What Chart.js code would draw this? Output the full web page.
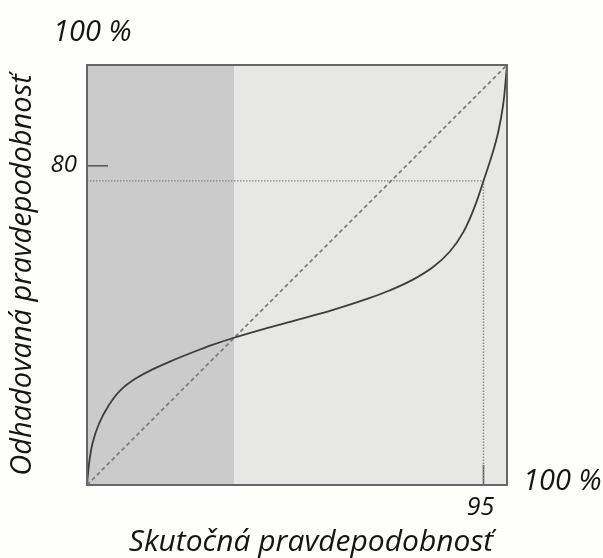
<!DOCTYPE html>
<html>
<head>
<meta charset="utf-8">
<script src="https://cdn.jsdelivr.net/npm/chart.js@4/dist/chart.umd.min.js"></script>
<style>
  body { margin: 0; background: #fefefa; }
  #wrap { width: 603px; height: 558px; }
</style>
</head>
<body>
<div id="wrap"><canvas id="chart" width="603" height="558"></canvas></div>
<script>
// estimated curve (percent of axis)
var curveX = [0, 0.5, 1.3, 2.9, 5.2, 8.0, 12.0, 16.0, 20, 25.2, 30, 34.8, 43, 50.7, 58.6, 66.7, 72, 77.6, 82.4, 86.4, 89.6, 92.4, 94.4, 96.4, 97.9, 99.1, 100];
var curveY = [0, 5.2, 9.9, 14.7, 19, 22.6, 25.6, 27.7, 29.5, 31.6, 33.4, 35, 37.4, 39.5, 41.7, 44.3, 46.3, 48.9, 51.9, 55.6, 60.2, 66.5, 72.4, 78.5, 84, 90.6, 100];
var diagX = [0, 100];
var diagY = [0, 100];
var shadeEnd = 35;          // dark zone goes from 0 to here
var markX = 94.4;           // "95" guide
var markY = 72.4;           // guide height where curve meets it
var xTickValues = [94.4];
var xTickLabels = ['95'];
var yTickValues = [76];
var yTickLabels = ['80'];
var xTitle = 'Skutočná pravdepodobnosť';
var yTitle = 'Odhadovaná pravdepodobnosť';
var maxLabel = '100 %';

function pts(xs, ys) {
  return xs.map(function (x, i) { return { x: x, y: ys[i] }; });
}

var fontFam = '"Open Sans", "Noto Sans", sans-serif';

var decor = {
  id: 'decor',
  beforeDatasetsDraw: function (chart) {
    var ctx = chart.ctx, a = chart.chartArea, xs = chart.scales.x;
    var edge = xs.getPixelForValue(shadeEnd);
    ctx.save();
    ctx.fillStyle = '#e7e7e5';
    ctx.fillRect(a.left, a.top, a.right - a.left, a.bottom - a.top);
    ctx.fillStyle = '#cbcbcb';
    ctx.fillRect(a.left, a.top, edge - a.left, a.bottom - a.top);
    ctx.restore();
  },
  afterDraw: function (chart) {
    var ctx = chart.ctx, a = chart.chartArea, xs = chart.scales.x, ys = chart.scales.y;
    ctx.save();
    ctx.strokeStyle = '#666';
    ctx.lineWidth = 2;
    ctx.strokeRect(a.left, a.top, a.right - a.left, a.bottom - a.top);

    ctx.fillStyle = '#151515';
    ctx.textBaseline = 'middle';

    ctx.font = 'italic 24px ' + fontFam;
    ctx.textAlign = 'right';
    yTickValues.forEach(function (v, i) {
      ctx.fillText(yTickLabels[i], a.left - 10, ys.getPixelForValue(v) - 1);
    });
    ctx.font = 'italic 25px ' + fontFam;
    ctx.textAlign = 'center';
    xTickValues.forEach(function (v, i) {
      ctx.fillText(xTickLabels[i], xs.getPixelForValue(v) - 3, a.bottom + 23);
    });

    ctx.font = 'italic 29px ' + fontFam;
    ctx.textAlign = 'left';
    ctx.fillText(maxLabel, a.left - 34, 33);
    ctx.fillText(maxLabel, a.right + 16, a.bottom - 3);

    ctx.font = 'italic 30px ' + fontFam;
    ctx.textAlign = 'center';
    ctx.fillText(xTitle, (a.left + a.right) / 2 + 14, a.bottom + 57);

    ctx.font = 'italic 29px ' + fontFam;
    ctx.translate(23, (a.top + a.bottom) / 2);
    ctx.rotate(-Math.PI / 2);
    ctx.fillText(yTitle, 0, 0);
    ctx.restore();
  }
};

new Chart(document.getElementById('chart'), {
  type: 'scatter',
  data: {
    datasets: [
      {
        data: pts(curveX, curveY),
        showLine: true,
        borderColor: '#3c3c3c',
        borderWidth: 1.8,
        pointRadius: 0,
        tension: 0.4
      },
      {
        data: pts(diagX, diagY),
        showLine: true,
        borderColor: '#7d7d7d',
        borderWidth: 1.8,
        borderDash: [4, 3],
        pointRadius: 0
      },
      {
        data: [{ x: 0, y: markY }, { x: markX, y: markY }],
        showLine: true,
        borderColor: '#858585',
        borderWidth: 1.4,
        borderDash: [1.5, 1.5],
        pointRadius: 0
      },
      {
        data: [{ x: markX, y: 0 }, { x: markX, y: markY }],
        showLine: true,
        borderColor: '#858585',
        borderWidth: 1.4,
        borderDash: [1.5, 1.5],
        pointRadius: 0
      },
      {
        // solid tick marks
        data: [{ x: xTickValues[0], y: 0 }, { x: xTickValues[0], y: 4.8 }],
        showLine: true,
        borderColor: '#555',
        borderWidth: 1.5,
        pointRadius: 0
      },
      {
        data: [{ x: 0, y: yTickValues[0] }, { x: 5, y: yTickValues[0] }],
        showLine: true,
        borderColor: '#555',
        borderWidth: 1.5,
        pointRadius: 0
      }
    ]
  },
  options: {
    responsive: false,
    animation: false,
    layout: { padding: { left: 87, right: 96, top: 65, bottom: 73 } },
    plugins: { legend: { display: false }, tooltip: { enabled: false } },
    scales: {
      x: { type: 'linear', min: 0, max: 100, display: false },
      y: { type: 'linear', min: 0, max: 100, display: false }
    }
  },
  plugins: [decor]
});
</script>
</body>
</html>
